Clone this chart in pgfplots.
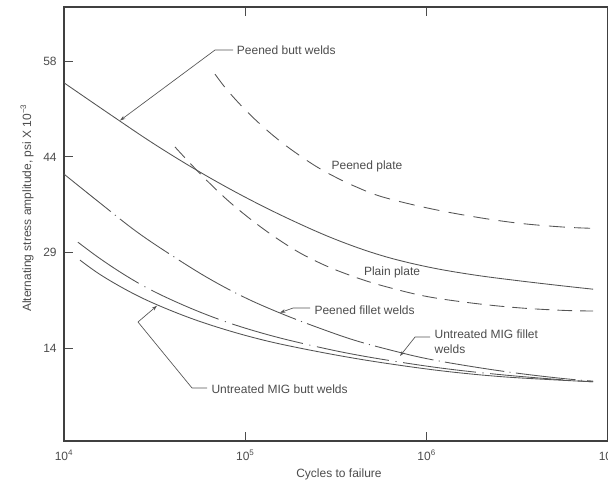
\documentclass[border=0pt]{standalone}
\usepackage{pgfplots}
\pgfplotsset{compat=1.18}
\usepackage{fontspec}
\setmainfont{Liberation Sans}
\usetikzlibrary{arrows.meta}
\definecolor{ink}{gray}{0.33}
\definecolor{txt}{gray}{0.30}
\begin{document}
\begin{tikzpicture}
\useasboundingbox (-48pt,-30.75pt) rectangle (408pt,330.75pt);
\clip (-48pt,-30.75pt) rectangle (408pt,330.75pt);
\begin{axis}[
  at={(0pt,0pt)}, anchor=south west,
  scale only axis, width=408pt, height=325.5pt,
  xmin=4, xmax=7, ymin=0.55, ymax=66.16,
  xtick={4,5,6,7},
  xticklabels={10\textsuperscript{4},10\textsuperscript{5},10\textsuperscript{6},10\textsuperscript{7}},
  ytick={14.5,29,43.5,58}, yticklabels={14,29,44,58},
  tick align=inside, major tick length=6.75pt,
  xtick pos=both, ytick pos=left,
  axis line style={line width=1.3pt, color=black!75},
  tick style={line width=0.7pt, color=black!70},
  font=\fontsize{9}{11}\selectfont,
  ticklabel style={text=txt, font=\fontsize{9}{11}\selectfont},
  xticklabel style={yshift=-3pt},
  yticklabel style={xshift=-2pt},
  xlabel={Cycles to failure},
  ylabel={Alternating stress amplitude, psi X 10\textsuperscript{−3}},
  xlabel style={text=txt, at={(axis description cs:0.5055,-0.076)}, anchor=center},
  ylabel style={text=txt, at={(axis description cs:-0.068,0.537)}, anchor=center},
  curve/.style={color=ink, line width=0.65pt, smooth, tension=0.6, mark=none},
]
% Peened butt welds (solid)
\addplot[curve] coordinates {(4.000,54.7) (4.25,50.0) (4.5,45.4) (4.75,41.2) (5.0,37.4) (5.25,34.0) (5.5,31.0) (5.75,28.6) (6.0,26.9) (6.25,25.7) (6.5,24.8) (6.75,24.0) (6.918,23.5)};
% Peened plate (dashed)
\addplot[curve, dash pattern=on 12pt off 7pt] coordinates {(4.833,56.0) (4.9,53.6) (5.0,50.6) (5.1,48.0) (5.2,45.7) (5.3,43.7) (5.4,41.9) (5.5,40.4) (5.6,39.1) (5.75,37.5) (6.0,35.8) (6.25,34.5) (6.5,33.5) (6.75,32.9) (6.918,32.7)};
% Plain plate (dashed)
\addplot[curve, dash pattern=on 11pt off 6pt] coordinates {(4.612,45.0) (4.7,42.4) (4.8,39.6) (4.9,37.0) (5.0,34.7) (5.1,32.6) (5.2,30.7) (5.3,29.0) (5.4,27.6) (5.5,26.4) (5.65,24.9) (5.8,23.7) (6.0,22.4) (6.25,21.4) (6.5,20.7) (6.75,20.3) (6.918,20.2)};
% Peened fillet welds (dash-dot)
\addplot[curve, dash pattern=on 45pt off 4pt on 0.8pt off 4pt] coordinates {(4.0,40.9) (4.2,36.5) (4.4,32.2) (4.6,28.5) (4.8,25.1) (5.0,22.2) (5.2,19.8) (5.4,17.7) (5.6,15.8) (5.8,14.3) (6.0,13.0) (6.25,11.8) (6.5,10.8) (6.75,10.0) (6.918,9.6)};
% Untreated MIG fillet welds (dash-dot)
\addplot[curve, dash pattern=on 55pt off 5pt on 0.8pt off 5pt] coordinates {(4.077,30.6) (4.2,28.1) (4.35,25.4) (4.5,23.1) (4.7,20.6) (4.9,18.5) (5.1,16.8) (5.3,15.4) (5.55,13.9) (5.8,12.7) (6.1,11.5) (6.4,10.6) (6.7,9.9) (6.918,9.5)};
% Untreated MIG butt welds (solid)
\addplot[curve] coordinates {(4.088,27.9) (4.2,25.7) (4.35,23.3) (4.5,21.3) (4.7,19.1) (4.9,17.3) (5.1,15.8) (5.3,14.6) (5.55,13.3) (5.8,12.2) (6.1,11.1) (6.4,10.3) (6.7,9.8) (6.918,9.5)};

% annotations
\draw[ink, line width=0.5pt, -{Stealth[length=4pt,width=2.6pt]}] (axis cs:4.932,59.66) -- (axis cs:4.833,59.66) -- (axis cs:4.309,49.0);
\node[anchor=west, text=txt, inner sep=1pt] at (axis cs:4.945,59.66) {Peened butt welds};
\node[text=txt] at (axis cs:5.671,42.1) {Peened plate};
\node[text=txt] at (axis cs:5.809,26.1) {Plain plate};
\draw[ink, line width=0.5pt, -{Stealth[length=4pt,width=2.6pt]}] (axis cs:5.357,20.65) -- (axis cs:5.263,20.65) -- (axis cs:5.191,19.95);
\node[anchor=west, text=txt, inner sep=1pt] at (axis cs:5.373,20.35) {Peened fillet welds};
\draw[ink, line width=0.5pt, -{Stealth[length=4pt,width=2.6pt]}] (axis cs:6.019,16.27) -- (axis cs:5.936,16.27) -- (axis cs:5.853,13.4);
\node[anchor=north west, align=left, text=txt, inner sep=1pt] at (axis cs:6.035,17.6) {Untreated MIG fillet\\welds};
\draw[ink, line width=0.5pt, -{Stealth[length=4pt,width=2.6pt]}] (axis cs:4.789,8.56) -- (axis cs:4.706,8.56) -- (axis cs:4.408,18.54) -- (axis cs:4.513,21.0);
\node[anchor=west, text=txt, inner sep=1pt] at (axis cs:4.805,8.4) {Untreated MIG butt welds};
\end{axis}
\end{tikzpicture}
\end{document}
